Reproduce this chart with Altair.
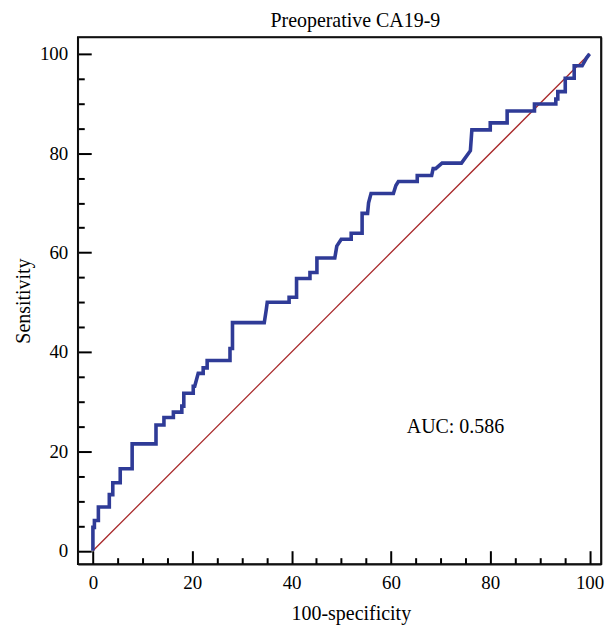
import altair as alt
import pandas as pd

# ROC curve vertices (100-specificity, sensitivity)
fpr = [0, 0, 0.3, 0.3, 1.1, 1.1, 3.3, 3.3, 4.0, 4.0, 5.5, 5.5, 7.9, 7.9, 12.7, 12.7,
       14.3, 14.3, 16.2, 16.2, 17.9, 17.9, 18.3, 18.3, 20.2, 20.2, 20.5, 21.2, 22.2, 22.2,
       23.0, 23.0, 27.6, 27.6, 28.1, 28.1, 34.5, 34.9, 35.1, 39.5, 39.5, 41.0, 41.0, 43.7,
       43.7, 45.1, 45.1, 48.7, 49.1, 50.0, 52.0, 52.0, 54.2, 54.2, 55.3, 55.5, 56.0, 60.5,
       61.0, 61.5, 65.3, 65.3, 68.2, 68.5, 69.0, 70.3, 74.2, 76.0, 76.3, 80.0, 80.0, 83.4,
       83.4, 88.9, 88.9, 93.2, 93.2, 93.6, 93.6, 95.1, 95.1, 96.9, 96.9, 98.5, 99.4, 100]
tpr = [0, 4.7, 4.7, 6.1, 6.1, 8.8, 8.8, 11.3, 11.3, 13.7, 13.7, 16.5, 16.5, 21.5, 21.5, 25.3,
       25.3, 26.8, 26.8, 27.9, 27.9, 29.1, 29.1, 31.7, 31.7, 33.1, 33.1, 35.7, 35.7, 36.8,
       36.8, 38.3, 38.3, 40.7, 40.7, 45.9, 45.9, 48.5, 50.0, 50.0, 51.0, 51.0, 54.8, 54.8,
       56.0, 56.0, 58.9, 58.9, 61.3, 62.7, 62.7, 63.9, 63.9, 67.9, 67.9, 70.0, 71.9, 71.9,
       73.5, 74.3, 74.3, 75.5, 75.5, 76.9, 76.9, 78.0, 78.0, 80.5, 84.7, 84.7, 86.1, 86.1,
       88.5, 88.5, 89.9, 89.9, 90.9, 90.9, 92.4, 92.4, 95.1, 95.1, 97.6, 97.6, 99.2, 100]

diag_x = [0, 100]
diag_y = [0, 100]

tick_values = list(range(0, 101, 5))
label_values = [0, 20, 40, 60, 80, 100]

auc_text = ["AUC: 0.586"]
auc_x = [73.0]
auc_y = [24.8]

FONT = "Liberation Serif"
W, H = 525, 529
FRAME_W = 1.6

xscale = alt.Scale(domain=[-3.05, 102.3], nice=False, zero=False)
yscale = alt.Scale(domain=[-2.7, 103.4], nice=False, zero=False)

curve_df = pd.DataFrame({"x": fpr, "y": tpr, "i": list(range(len(fpr)))})
diag_df = pd.DataFrame({"x": diag_x, "y": diag_y})
auc_df = pd.DataFrame({"t": auc_text, "x": auc_x, "y": auc_y})

major_size = {"condition": {"test": "datum.value % 20 === 0", "value": 13.5}, "value": 6.5}

# bottom / left: labels and titles only
x_label_axis = alt.Axis(orient="bottom", values=label_values, ticks=False, domain=True,
                        domainColor="#111111", domainWidth=FRAME_W,
                        grid=False, labelFont=FONT, labelFontSize=19, labelColor="black",
                        labelPadding=9, labelFlush=False, title="100-specificity",
                        titleFont=FONT, titleFontSize=20, titleFontWeight="normal",
                        titleColor="black", titlePadding=12, titleX=274)
y_label_axis = alt.Axis(orient="left", values=label_values, ticks=False, domain=True,
                        domainColor="#111111", domainWidth=FRAME_W,
                        grid=False, labelFont=FONT, labelFontSize=19, labelColor="black",
                        labelPadding=10, labelFlush=False, title="Sensitivity",
                        titleFont=FONT, titleFontSize=20, titleFontWeight="normal",
                        titleColor="black", titlePadding=6)
# inward ticks: opposite-orient axes shifted onto the bottom / left edges
x_tick_axis = alt.Axis(orient="top", offset=-H, values=tick_values, labels=False,
                       domain=False, grid=False, tickColor="black", tickWidth=2,
                       tickSize=major_size, title=None)
y_tick_axis = alt.Axis(orient="right", offset=-W, values=tick_values, labels=False,
                       domain=False, grid=False, tickColor="black", tickWidth=2,
                       tickSize=major_size, title=None)
# top / right frame lines
x_top_axis = alt.Axis(orient="top", ticks=False, labels=False, grid=False, domain=True,
                      domainColor="#111111", domainWidth=FRAME_W, title=None)
y_right_axis = alt.Axis(orient="right", ticks=False, labels=False, grid=False, domain=True,
                        domainColor="#111111", domainWidth=FRAME_W, title=None)

curve = alt.Chart(curve_df).mark_line(color="#2F3B97", strokeWidth=3.6).encode(
    x=alt.X("x:Q", scale=xscale, axis=x_label_axis),
    y=alt.Y("y:Q", scale=yscale, axis=y_label_axis),
    order="i:Q",
)

diag = alt.Chart(diag_df).mark_line(color="#A8282A", strokeWidth=1.3).encode(
    x=alt.X("x:Q", scale=xscale, axis=x_tick_axis),
    y=alt.Y("y:Q", scale=yscale, axis=y_tick_axis),
)

auc = alt.Chart(auc_df).mark_text(font=FONT, fontSize=20, color="black",
                                  align="center", baseline="middle").encode(
    x=alt.X("x:Q", scale=xscale, axis=x_top_axis),
    y=alt.Y("y:Q", scale=yscale, axis=y_right_axis),
    text="t:N",
)

chart = alt.layer(diag, curve, auc).resolve_axis(x="independent", y="independent").properties(
    width=W, height=H,
    background="white",
    title=alt.Title("Preoperative CA19-9", font=FONT, fontSize=20, fontWeight="normal",
                    color="black", anchor="middle", dx=16, offset=6),
    autosize=alt.AutoSizeParams(type="none"),
    padding={"left": 70, "top": 28, "right": 4, "bottom": 60},
).configure_view(stroke="black", strokeWidth=FRAME_W)

chart.save("out.html", embed_options={"renderer": "svg", "actions": False})
